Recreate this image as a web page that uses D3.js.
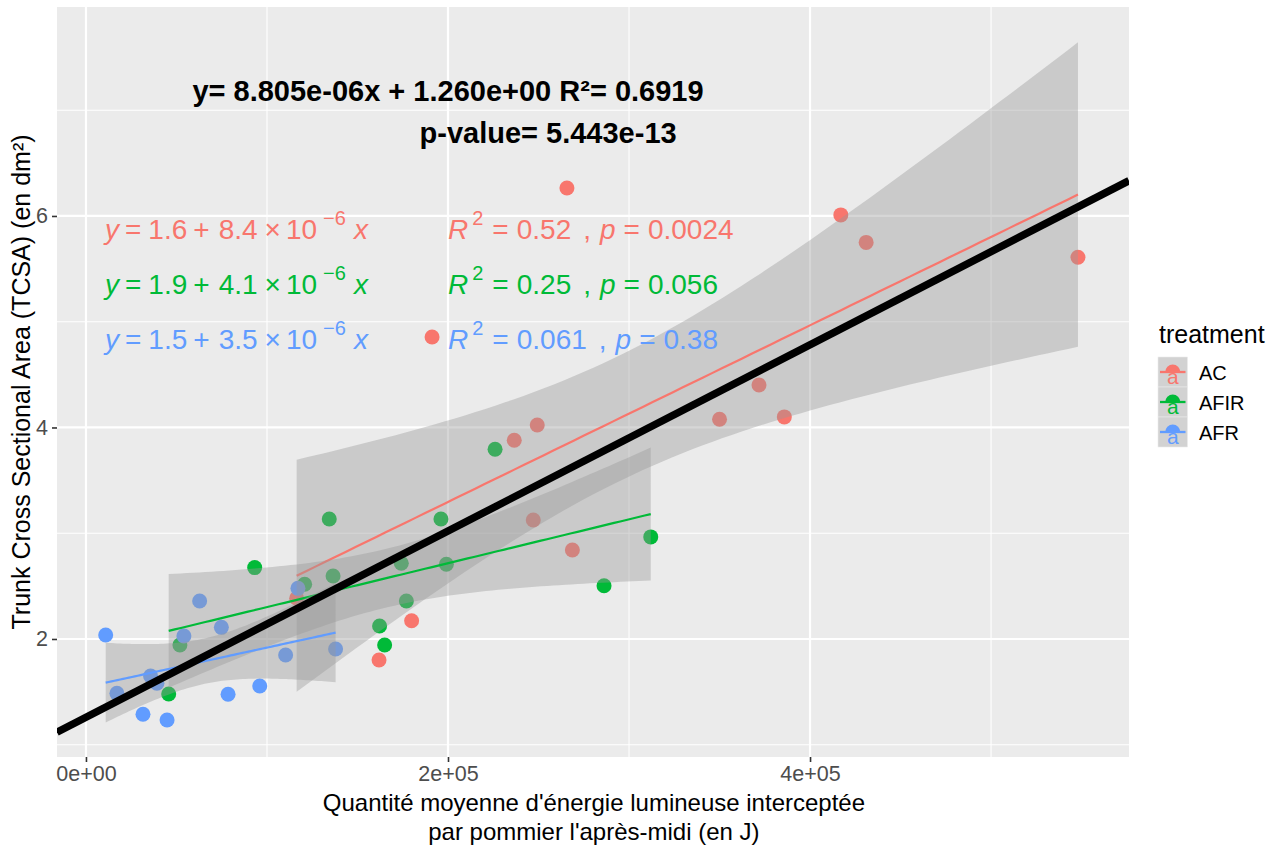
<!DOCTYPE html>
<html><head><meta charset="utf-8">
<script src="https://cdn.jsdelivr.net/npm/d3@7"></script>
<style>
body{margin:0;background:#fff}
text{font-family:"Liberation Sans",Arial,sans-serif}
</style>
</head><body>
<svg id="chart" width="1278" height="849"></svg>
<script>
// ---------------- data ----------------
const groups = ["AC", "AFIR", "AFR"];
const groupColors = ["#F8766D", "#00BA38", "#619CFF"];

const acX = [5.48e5, 4.17e5, 4.31e5, 2.657e5, 1.912e5, 3.50e5, 3.718e5, 3.858e5, 2.366e5, 2.493e5, 2.471e5, 2.687e5, 1.799e5, 1.619e5, 1.164e5];
const acY = [5.61, 6.01, 5.75, 6.265, 4.856, 4.078, 4.402, 4.10, 3.879, 4.024, 3.125, 2.842, 2.173, 1.801, 2.385];

const afirX = [0.457e5, 0.519e5, 0.932e5, 1.208e5, 1.344e5, 1.365e5, 1.622e5, 1.650e5, 1.742e5, 1.770e5, 1.961e5, 1.991e5, 2.260e5, 2.862e5, 3.120e5];
const afirY = [1.480, 1.943, 2.675, 2.517, 3.135, 2.596, 2.123, 1.943, 2.716, 2.359, 3.135, 2.706, 3.794, 2.504, 2.965];

const afrX = [0.109e5, 0.171e5, 0.315e5, 0.357e5, 0.392e5, 0.448e5, 0.541e5, 0.628e5, 0.748e5, 0.785e5, 0.960e5, 1.103e5, 1.171e5, 1.379e5];
const afrY = [2.038, 1.486, 1.288, 1.650, 1.581, 1.234, 2.028, 2.359, 2.110, 1.477, 1.556, 1.849, 2.479, 1.905];

// overall fit (annotated)
const overallIntercept = 1.260;
const overallSlope = 8.805e-06;
const overallLabel1 = "y= 8.805e-06x + 1.260e+00 R²= 0.6919";
const overallLabel2 = "p-value= 5.443e-13";

// per-group stat labels
const eqIntercepts = ["1.6", "1.9", "1.5"];
const eqSlopes = ["8.4", "4.1", "3.5"];
const eqExponents = ["−6", "−6", "−6"];
const r2Values = ["0.52", "0.25", "0.061"];
const pValues = ["0.0024", "0.056", "0.38"];

// axes
const xTicks = [0, 2e5, 4e5];
const xTickLabels = ["0e+00", "2e+05", "4e+05"];
const xMinor = [1e5, 3e5, 5e5];
const yTicks = [2, 4, 6];
const yTickLabels = ["2", "4", "6"];
const yMinor = [1, 3, 5, 7];
const xTitle1 = "Quantité moyenne d'énergie lumineuse interceptée";
const xTitle2 = "par pommier l'après-midi (en J)";
const yTitle = "Trunk Cross Sectional Area (TCSA) (en dm²)";
const legendTitle = "treatment";

// ---------------- layout ----------------
const svg = d3.select("#chart");
const P = {left: 57, right: 1129, top: 7, bottom: 757};
const x = d3.scaleLinear().domain([-0.16e5, 5.762e5]).range([P.left, P.right]);
const y = d3.scaleLinear().domain([0.884, 7.976]).range([P.bottom, P.top]);

svg.append("rect").attr("width", 1278).attr("height", 849).attr("fill", "#fff");
svg.append("rect").attr("x", P.left).attr("y", P.top)
  .attr("width", P.right - P.left).attr("height", P.bottom - P.top).attr("fill", "#EBEBEB");

svg.append("defs").append("clipPath").attr("id", "panel")
  .append("rect").attr("x", P.left).attr("y", P.top)
  .attr("width", P.right - P.left).attr("height", P.bottom - P.top);

const grid = svg.append("g");
grid.selectAll(".xm").data(xMinor).join("line")
  .attr("x1", d => x(d)).attr("x2", d => x(d)).attr("y1", P.top).attr("y2", P.bottom)
  .attr("stroke", "#fff").attr("stroke-width", 1.1);
grid.selectAll(".ym").data(yMinor).join("line")
  .attr("y1", d => y(d)).attr("y2", d => y(d)).attr("x1", P.left).attr("x2", P.right)
  .attr("stroke", "#fff").attr("stroke-width", 1.1);
grid.selectAll(".xM").data(xTicks).join("line")
  .attr("x1", d => x(d)).attr("x2", d => x(d)).attr("y1", P.top).attr("y2", P.bottom)
  .attr("stroke", "#fff").attr("stroke-width", 2.2);
grid.selectAll(".yM").data(yTicks).join("line")
  .attr("y1", d => y(d)).attr("y2", d => y(d)).attr("x1", P.left).attr("x2", P.right)
  .attr("stroke", "#fff").attr("stroke-width", 2.2);

const series = [
  {xs: acX, ys: acY},
  {xs: afirX, ys: afirY},
  {xs: afrX, ys: afrY}
];

const plot = svg.append("g").attr("clip-path", "url(#panel)");

// points
series.forEach((s, gi) => {
  plot.append("g").selectAll("circle").data(s.xs.map((v, i) => [v, s.ys[i]])).join("circle")
    .attr("cx", d => x(d[0])).attr("cy", d => y(d[1])).attr("r", 7.5)
    .attr("fill", groupColors[gi]);
});

// linear model helpers
function lm(xs, ys) {
  const n = xs.length, mx = d3.mean(xs), my = d3.mean(ys);
  let sxx = 0, sxy = 0;
  for (let i = 0; i < n; i++) { sxx += (xs[i] - mx) ** 2; sxy += (xs[i] - mx) * (ys[i] - my); }
  const b = sxy / sxx, a = my - b * mx;
  let sse = 0;
  for (let i = 0; i < n; i++) sse += (ys[i] - a - b * xs[i]) ** 2;
  return {n, mx, sxx, a, b, s: Math.sqrt(sse / (n - 2))};
}
function tq975(df) {
  const z = 1.959964;
  return z + (z**3 + z) / (4*df) + (5*z**5 + 16*z**3 + 3*z) / (96*df*df)
    + (3*z**7 + 19*z**5 + 17*z**3 - 15*z) / (384*df**3);
}

// smooths
series.forEach((s, gi) => {
  const m = lm(s.xs, s.ys);
  const t = tq975(m.n - 2);
  const lo = d3.min(s.xs), hi = d3.max(s.xs);
  const pts = d3.range(80).map(i => {
    const xv = lo + (hi - lo) * i / 79;
    const fit = m.a + m.b * xv;
    const se = m.s * Math.sqrt(1 / m.n + (xv - m.mx) ** 2 / m.sxx);
    return {xv, fit, lo: fit - t * se, hi: fit + t * se};
  });
  plot.append("path").datum(pts)
    .attr("d", d3.area().x(d => x(d.xv)).y0(d => y(d.lo)).y1(d => y(d.hi)))
    .attr("fill", "#999999").attr("fill-opacity", 0.4);
  plot.append("path").datum(pts)
    .attr("d", d3.line().x(d => x(d.xv)).y(d => y(d.fit)))
    .attr("fill", "none").attr("stroke", groupColors[gi]).attr("stroke-width", 2.2);
});

// overall abline
const xd = x.domain();
plot.append("line")
  .attr("x1", x(xd[0])).attr("y1", y(overallIntercept + overallSlope * xd[0]))
  .attr("x2", x(xd[1])).attr("y2", y(overallIntercept + overallSlope * xd[1]))
  .attr("stroke", "#000").attr("stroke-width", 7.5);

// overall annotation
svg.append("text").attr("x", x(2e5)).attr("y", y(7.087)).attr("text-anchor", "middle")
  .attr("font-size", 29).attr("font-weight", "bold").attr("fill", "#000").text(overallLabel1);
svg.append("text").attr("x", x(2.553e5)).attr("y", y(6.69)).attr("text-anchor", "middle")
  .attr("font-size", 29).attr("font-weight", "bold").attr("fill", "#000").text(overallLabel2);

// group stat labels
const labelY = [5.778, 5.258, 4.738];
groups.forEach((g, gi) => {
  const col = groupColors[gi];
  const t1 = svg.append("text").attr("x", x(0.105e5)).attr("y", y(labelY[gi]))
    .attr("font-size", 28).attr("fill", col);
  t1.append("tspan").attr("font-style", "italic").text("y");
  t1.append("tspan").attr("dx", 6).text("=");
  t1.append("tspan").attr("dx", 7).text(eqIntercepts[gi]);
  t1.append("tspan").attr("dx", 6).text("+");
  t1.append("tspan").attr("dx", 9).text(eqSlopes[gi]);
  t1.append("tspan").attr("dx", 7).text("×");
  t1.append("tspan").attr("dx", 5).text("10");
  t1.append("tspan").attr("dx", 6).attr("dy", -14).attr("font-size", 20).text(eqExponents[gi]);
  t1.append("tspan").attr("dx", 8).attr("dy", 14).attr("font-style", "italic").text("x");

  const t2 = svg.append("text").attr("x", x(2.0e5)).attr("y", y(labelY[gi]))
    .attr("font-size", 28).attr("fill", col);
  t2.append("tspan").attr("font-style", "italic").text("R");
  t2.append("tspan").attr("dx", 4).attr("dy", -14).attr("font-size", 20).text("2");
  t2.append("tspan").attr("dx", 9).attr("dy", 14).text("=");
  t2.append("tspan").attr("dx", 8).text(r2Values[gi]);
  t2.append("tspan").attr("dx", 12).text(",");
  t2.append("tspan").attr("dx", 9).attr("font-style", "italic").text("p");
  t2.append("tspan").attr("dx", 8).text("=");
  t2.append("tspan").attr("dx", 8).text(pValues[gi]);
});

// axes
const xAxis = svg.append("g").attr("transform", `translate(0,${P.bottom})`)
  .call(d3.axisBottom(x).tickValues(xTicks).tickFormat((d, i) => xTickLabels[i]).tickSize(5).tickPadding(4));
const yAxis = svg.append("g").attr("transform", `translate(${P.left},0)`)
  .call(d3.axisLeft(y).tickValues(yTicks).tickFormat((d, i) => yTickLabels[i]).tickSize(5).tickPadding(4));
[xAxis, yAxis].forEach(a => {
  a.select(".domain").remove();
  a.selectAll(".tick line").attr("stroke", "#333333").attr("stroke-width", 1.6);
  a.selectAll(".tick text").attr("fill", "#4D4D4D").attr("font-size", 21.5)
    .attr("font-family", "Liberation Sans, Arial, sans-serif");
});

// axis titles
svg.append("text").attr("x", x(2.806e5)).attr("y", 811).attr("text-anchor", "middle")
  .attr("font-size", 24).attr("fill", "#000").text(xTitle1);
svg.append("text").attr("x", x(2.806e5)).attr("y", 839.5).attr("text-anchor", "middle")
  .attr("font-size", 24).attr("fill", "#000").text(xTitle2);
svg.append("text").attr("transform", `translate(30,${(P.top + P.bottom) / 2}) rotate(-90)`)
  .attr("text-anchor", "middle").attr("font-size", 25).attr("fill", "#000").text(yTitle);

// legend
const lg = svg.append("g");
lg.append("text").attr("x", 1159).attr("y", 343).attr("font-size", 25).attr("fill", "#000").text(legendTitle);
const keyY = d3.scaleBand().domain(groups).range([357, 447]);
groups.forEach((g, gi) => {
  const ky = keyY(g), kh = keyY.bandwidth(), kx = 1158, kw = 29.5;
  const cx = kx + kw / 2, cy = ky + kh / 2;
  lg.append("rect").attr("x", kx).attr("y", ky).attr("width", kw).attr("height", kh)
    .attr("fill", "#D2D2D2").attr("stroke", "#EBEBEB").attr("stroke-width", 0.6);
  lg.append("path").attr("transform", `translate(${cx},${cy})`)
    .attr("d", d3.arc()({innerRadius: 0, outerRadius: 7.5, startAngle: -Math.PI / 2, endAngle: Math.PI / 2}))
    .attr("fill", groupColors[gi]);
  lg.append("line").attr("x1", kx + 2).attr("x2", kx + kw - 2).attr("y1", cy).attr("y2", cy)
    .attr("stroke", groupColors[gi]).attr("stroke-width", 2.3);
  lg.append("text").attr("x", cx).attr("y", cy + 12).attr("text-anchor", "middle")
    .attr("font-size", 21).attr("fill", groupColors[gi]).text("a");
  lg.append("text").attr("x", 1199).attr("y", cy + 8).attr("font-size", 20).attr("fill", "#000").text(g);
});
</script>
</body></html>
